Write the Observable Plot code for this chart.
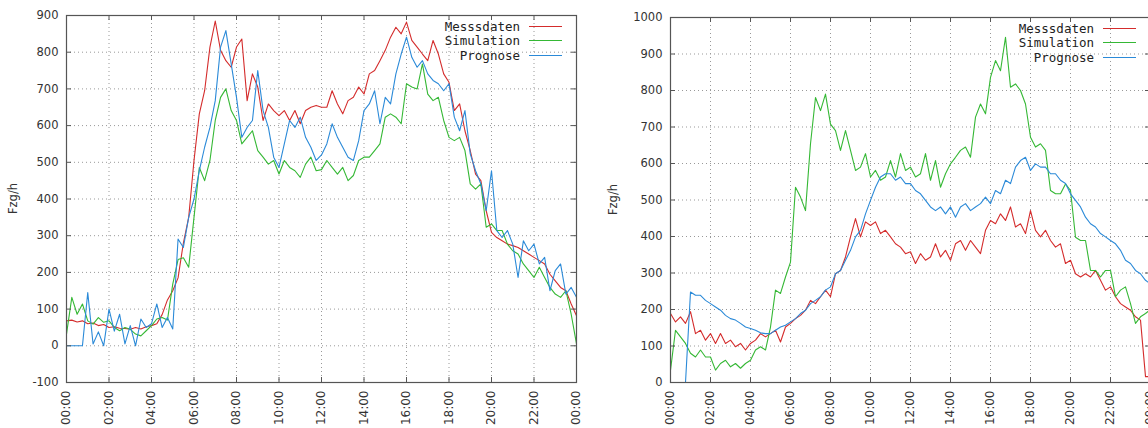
<!DOCTYPE html>
<html><head><meta charset="utf-8">
<script src="https://cdn.jsdelivr.net/npm/d3@7"></script>
<script src="https://cdn.jsdelivr.net/npm/@observablehq/plot@0.6"></script>
<style>
html,body{margin:0;padding:0;background:#fff;}
#wrap{position:relative;width:1148px;height:428px;overflow:hidden;background:#fff;}
#left{position:absolute;left:0;top:0;width:590px;height:428px;}
#right{position:absolute;left:600px;top:0;width:560px;height:428px;}
#wrap svg{max-width:none !important;display:block;}
</style></head><body><div id="wrap"><div id="left"></div><div id="right"></div></div>
<script>
// ---- data (15-minute samples, 00:00 .. 24:00) ----
const seriesNames = ["Messsdaten", "Simulation", "Prognose"];
const seriesColors = ["#d42c2c", "#35b835", "#2b8ad8"];
const yLabel = "Fzg/h";
const xTicks = [0, 2, 4, 6, 8, 10, 12, 14, 16, 18, 20, 22, 24];
const xTickLabels = ["00:00","02:00","04:00","06:00","08:00","10:00","12:00","14:00","16:00","18:00","20:00","22:00","00:00"];
const yTicksLeft = [-100, 0, 100, 200, 300, 400, 500, 600, 700, 800, 900];
const yTicksRight = [0, 100, 200, 300, 400, 500, 600, 700, 800, 900, 1000];
const stepHours = 0.25;

const leftMess = [
  68,70,65,68,60,62,55,58,
  50,52,48,47,45,50,46,52,
  55,60,85,125,150,185,280,350,
  505,632,695,814,885,805,777,759,
  814,836,668,741,705,614,659,641,
  627,641,614,641,605,641,650,655,
  650,650,695,659,632,668,677,705,
  686,741,750,777,805,841,868,850,
  882,832,814,795,777,832,795,741,
  718,641,659,586,532,468,450,368,
  309,295,286,277,273,268,259,250,
  241,232,223,195,177,159,150,114,
  82];
const leftSim = [
  32,132,86,114,68,59,77,64,
  68,50,41,50,45,32,27,41,
  55,73,77,70,168,235,240,214,
  350,486,450,505,614,677,700,641,
  614,550,568,586,532,514,495,505,
  468,505,486,477,459,495,514,477,
  480,505,486,468,486,450,464,505,
  514,514,532,550,623,632,623,605,
  714,705,700,768,686,668,677,614,
  568,559,568,532,441,427,441,323,
  332,314,314,277,259,250,223,205,
  186,214,186,159,141,132,150,86,
  5];
const leftProg = [
  0,0,0,0,145,5,38,0,
  100,40,86,5,55,0,73,50,
  60,114,50,77,46,291,268,350,
  400,477,541,595,668,814,859,768,
  677,568,595,614,750,641,595,514,
  486,550,614,595,623,568,541,505,
  520,550,605,568,541,514,505,559,
  641,659,695,605,677,659,741,795,
  841,786,759,777,741,723,714,695,
  714,623,586,641,523,477,441,368,
  477,314,295,314,277,186,286,259,
  277,223,241,150,205,223,141,159,
  132];

const rightMess = [
  189,166,180,162,194,134,143,116,
  134,107,134,107,116,98,107,89,
  107,116,134,125,134,143,111,152,
  162,175,184,198,225,216,235,253,
  235,298,307,344,399,449,399,440,
  430,440,408,417,399,380,371,353,
  358,326,353,335,344,380,344,362,
  335,380,389,362,389,371,353,417,
  444,435,462,444,481,426,435,408,
  471,417,399,417,389,371,380,326,
  335,298,289,298,289,307,280,253,
  262,235,216,207,198,180,171,16,
  16];
const rightSim = [
  34,143,125,107,80,70,89,70,
  70,34,52,61,43,52,39,52,
  61,89,98,89,152,253,244,289,
  330,535,508,471,654,781,745,790,
  708,690,636,690,636,581,590,627,
  563,581,554,563,608,563,627,581,
  590,563,572,627,554,608,535,572,
  599,617,636,645,617,727,763,736,
  836,882,854,946,809,818,800,763,
  672,645,654,636,526,517,517,544,
  526,398,389,389,307,307,289,307,
  307,235,253,262,216,162,180,189,
  200];
const rightProg = [
  0,0,0,0,248,239,239,225,
  216,207,198,184,175,171,162,152,
  148,143,136,134,134,143,152,157,
  166,175,189,198,216,225,235,253,
  262,298,307,335,362,399,417,462,
  499,535,563,572,572,554,563,545,
  545,526,517,499,481,471,481,462,
  481,453,481,490,471,481,490,508,
  490,526,517,554,545,590,608,617,
  581,599,590,590,572,572,554,545,
  517,499,481,453,435,426,408,399,
  389,380,362,335,326,307,298,280,
  270];

function panel(target, {values, yDomain, yTicks, width, marginLeft, marginRight, marginTop}) {
  const height = 428, marginBottom = 46;
  const W = width - marginLeft - marginRight;
  const H = height - marginTop - marginBottom;
  const data = seriesNames.flatMap((s, si) => values[si].map((v, i) => ({t: i * stepHours, v, s})));
  const tickStroke = "#555";
  const svg = Plot.plot({
    width, height, marginLeft, marginRight, marginTop, marginBottom,
    style: {background: "#fff", fontFamily: "'DejaVu Sans', sans-serif", fontSize: "11px", color: "#333", maxWidth: "none"},
    x: {domain: [0, 24]},
    y: {domain: yDomain},
    color: {domain: seriesNames, range: seriesColors},
    marks: [
      Plot.gridX(xTicks, {stroke: "#999", strokeOpacity: 1, strokeDasharray: "1,3"}),
      Plot.gridY(yTicks, {stroke: "#999", strokeOpacity: 1, strokeDasharray: "1,3"}),
      Plot.line(data, {x: "t", y: "v", z: "s", stroke: "s", strokeWidth: 1.1}),
      Plot.ruleX(xTicks, {insetTop: H - 5, stroke: tickStroke}),
      Plot.ruleX(xTicks, {insetBottom: H - 5, stroke: tickStroke}),
      Plot.ruleY(yTicks, {insetRight: W - 5, stroke: tickStroke}),
      Plot.ruleY(yTicks, {insetLeft: W - 5, stroke: tickStroke}),
      Plot.frame({stroke: "#555", strokeWidth: 1.2}),
      Plot.axisX(xTicks, {tickFormat: d => xTickLabels[xTicks.indexOf(d)], tickRotate: -90, tickSize: 0, tickPadding: 8, fontSize: 12, label: null}),
      Plot.axisY(yTicks, {tickFormat: d => String(d), tickSize: 0, tickPadding: 8, fontSize: 11.5, label: null})
    ]
  });
  const g = d3.select(svg).append("g");
  const right = width - marginRight;
  seriesNames.forEach((s, i) => {
    const y = Math.round(marginTop + 10.5 + 14.5 * i) + 0.5;
    g.append("text").attr("x", right - 56).attr("y", y)
      .attr("text-anchor", "end").attr("dominant-baseline", "central")
      .attr("font-family", "'DejaVu Sans Mono', monospace").attr("font-size", 12.5)
      .attr("fill", "#222").text(s);
    g.append("line").attr("x1", right - 47).attr("x2", right - 14)
      .attr("y1", y).attr("y2", y)
      .attr("stroke", seriesColors[i]).attr("stroke-width", 1.1);
  });
  g.append("text")
    .attr("transform", `translate(13,${marginTop + H / 2}) rotate(-90)`)
    .attr("text-anchor", "middle").attr("dominant-baseline", "central")
    .attr("font-size", 11.5).attr("fill", "#333").text(yLabel);
  document.getElementById(target).appendChild(svg);
}

panel("left", {values: [leftMess, leftSim, leftProg], yDomain: [-100, 900], yTicks: yTicksLeft,
  width: 590, marginLeft: 66, marginRight: 14, marginTop: 15});
panel("right", {values: [rightMess, rightSim, rightProg], yDomain: [0, 1000], yTicks: yTicksRight,
  width: 560, marginLeft: 70, marginRight: 10, marginTop: 17});
</script></body></html>
